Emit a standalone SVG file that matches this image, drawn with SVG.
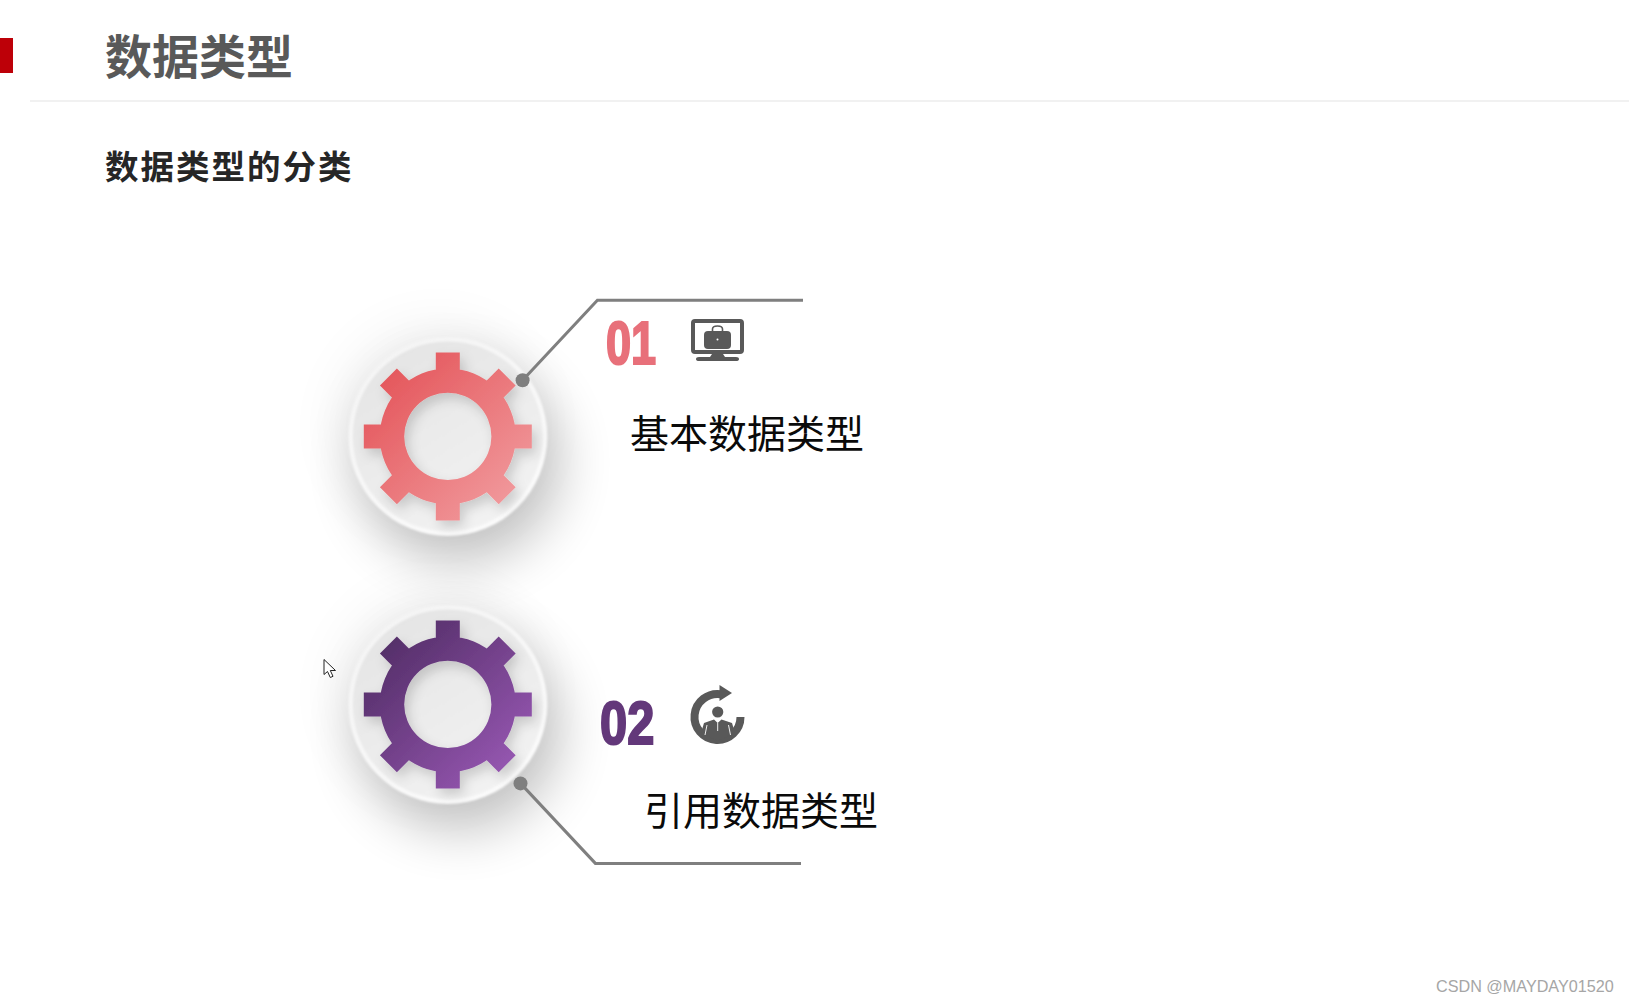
<svg xmlns="http://www.w3.org/2000/svg" xmlns:xlink="http://www.w3.org/1999/xlink" width="1629" height="1001" viewBox="0 0 1629 1001">
<style>
.cjk{font-family:"Noto Sans CJK SC","Noto Sans",sans-serif}
.label{font-size:39px;fill:#0a0a0a}
.num{font-family:"Liberation Sans",Arial,sans-serif;font-weight:700;font-size:61px;stroke-width:2.2px}
.conn{fill:none;stroke:#7f7f7f;stroke-width:3}
.dot{fill:#7f7f7f}
.icon{fill:#595959}
</style>
<defs>
<linearGradient id="red" x1="0.1" y1="0.1" x2="0.9" y2="0.9"><stop offset="0" stop-color="#e4555a"/><stop offset="1" stop-color="#f19a9d"/></linearGradient>
<linearGradient id="pur" x1="0.1" y1="0.1" x2="0.85" y2="0.85"><stop offset="0" stop-color="#522d66"/><stop offset="1" stop-color="#9355ae"/></linearGradient>
<linearGradient id="disk" x1="0.2" y1="0" x2="0.8" y2="1"><stop offset="0" stop-color="#e4e4e4"/><stop offset="1" stop-color="#f3f3f3"/></linearGradient>
<linearGradient id="rim" x1="0.2" y1="0" x2="0.8" y2="1"><stop offset="0" stop-color="#f4f4f4"/><stop offset="1" stop-color="#fbfbfb"/></linearGradient>
<filter id="big" x="-60%" y="-60%" width="220%" height="220%"><feGaussianBlur stdDeviation="26"/></filter>
<filter id="soft" x="-10%" y="-10%" width="120%" height="120%"><feGaussianBlur stdDeviation="1.2"/></filter>
<filter id="gs" x="-30%" y="-30%" width="160%" height="160%"><feDropShadow dx="4" dy="6" stdDeviation="6" flood-color="#000" flood-opacity="0.16"/></filter>
<path id="gear" d="M-68,0A68,68 0 1 1 68,0A68,68 0 1 1 -68,0ZM-43.6,0A43.6,43.6 0 1 0 43.6,0A43.6,43.6 0 1 0 -43.6,0ZM-12,-60V-84H12V-60ZM60,-12H84V12H60ZM12,60V84H-12V60ZM-60,12H-84V-12H-60ZM33.94,-50.91L50.91,-67.88L67.88,-50.91L50.91,-33.94ZM50.91,33.94L67.88,50.91L50.91,67.88L33.94,50.91ZM-33.94,50.91L-50.91,67.88L-67.88,50.91L-50.91,33.94ZM-50.91,-33.94L-67.88,-50.91L-50.91,-67.88L-33.94,-50.91Z"/>
<g id="diskbody">
<circle cx="-10" cy="-10" r="106" fill="#000" opacity="0.045" filter="url(#big)"/>
<circle cx="12" cy="26" r="102" fill="#000" opacity="0.22" filter="url(#big)"/>
<circle r="99.5" fill="url(#rim)" filter="url(#soft)"/>
<circle r="95" fill="url(#disk)" filter="url(#soft)"/>
</g>
</defs>
<rect width="1629" height="1001" fill="#fff"/>
<rect id="accent" x="0" y="38" width="13" height="35" fill="#bd0008"/>
<rect id="rule" x="30" y="100" width="1599" height="2" fill="#f1f1f1"/>
<text id="title" class="cjk" x="105" y="74" font-size="47" font-weight="700" fill="#595959">数据类型</text>
<text id="subtitle" class="cjk" x="105" y="179" font-size="33.5" font-weight="700" fill="#262626" letter-spacing="2">数据类型的分类</text>

<g id="node-01">
<g transform="translate(447.8,436.4)"><use xlink:href="#diskbody"/><use xlink:href="#gear" fill="url(#red)" filter="url(#gs)"/></g>
<text class="num" transform="translate(606,363.5) scale(0.74,1)" fill="#e8707a" stroke="#e8707a">01</text>
<g id="icon-monitor" class="icon">
<path fill-rule="evenodd" d="M695,319H740Q744,319 744,323V350Q744,354 740,354H695Q691,354 691,350V323Q691,319 695,319ZM695,323V350H740V323Z"/>
<path d="M712,354H723L725,357H736Q739,357 739,359T736,361H699Q696,361 696,359T699,357H710Z"/>
<path fill-rule="evenodd" d="M708,331H727Q731,331 731,335V345Q731,349 727,349H708Q704,349 704,345V335Q704,331 708,331Z"/>
<path d="M712.5,331V329Q712.5,326 717.5,326T722.5,329V331" fill="none" stroke="#595959" stroke-width="1.6"/>
<circle cx="717.5" cy="339.5" r="1" fill="#fff"/>
</g>
<text class="cjk label" x="630" y="447.5">基本数据类型</text>
</g>

<g id="node-02">
<g transform="translate(447.8,704.4)"><use xlink:href="#diskbody"/><use xlink:href="#gear" fill="url(#pur)" filter="url(#gs)"/></g>
<text class="num" transform="translate(600,743.5) scale(0.8,1)" fill="#63387a" stroke="#63387a">02</text>
<g id="icon-person" class="icon">
<path d="M721,694.2A23,23 0 1 0 740.5,717" fill="none" stroke="#595959" stroke-width="8"/>
<path d="M719.5,685L732,693L719.5,701Z"/>
<circle cx="717.7" cy="712" r="5.6"/>
<path d="M704,723L714,719.5L717.7,723L721.5,719.5L732,723L735,733L717.7,741L701,733Z"/>
<path d="M717.7,723V731M707,725L705,735M728.5,725L730.5,735" stroke="#fff" stroke-width="0.9" fill="none"/>
</g>
<text class="cjk label" x="644" y="825">引用数据类型</text>
</g>

<g id="connectors">
<path class="conn" d="M522.6,380.3L597.4,300.3H803"/>
<circle class="dot" cx="522.6" cy="380.3" r="7"/>
<path class="conn" d="M520.5,783.4L595.4,863.4H801"/>
<circle class="dot" cx="520.5" cy="783.4" r="7"/>
</g>

<path id="cursor" d="M324,659.5V674.5L327.5,671.5L330.3,677.5L333,676.3L330.3,670.5H335.5Z" fill="#fff" stroke="#222" stroke-width="1"/>
<text id="watermark" x="1436" y="992" font-family="Liberation Sans, Arial, sans-serif" font-size="16.2" fill="#a6a6a6">CSDN @MAYDAY01520</text>
</svg>
